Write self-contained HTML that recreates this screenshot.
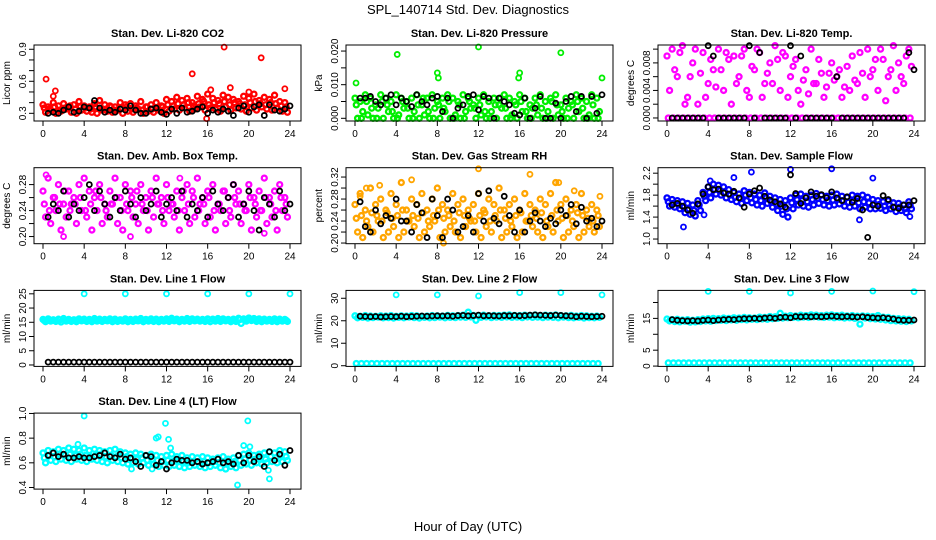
<!DOCTYPE html>
<html><head><meta charset="utf-8"><style>
html,body{margin:0;padding:0;background:#fff;}
svg{display:block;font-family:"Liberation Sans",sans-serif;}
</style></head><body>
<svg id="chart" width="936" height="540" viewBox="0 0 936 540">
<text x="468" y="14" text-anchor="middle" font-size="13">SPL_140714  Std. Dev. Diagnostics</text>
<text x="468" y="531" text-anchor="middle" font-size="13">Hour of Day (UTC)</text>
</svg>
<script>
const xTicks=[0,4,8,12,16,20,24];
// Panel 1 CO2
const p1Hi=[0.38,0.36,0.40,0.37,0.39,0.35,0.38,0.41,0.37,0.36,0.39,0.42,0.38,0.37,0.36,0.40,0.38,0.39,0.37,0.41,0.36,0.38,0.40,0.37,0.43,0.41,0.45,0.42,0.44,0.40,0.46,0.43,0.48,0.44,0.42,0.47,0.45,0.43,0.41,0.46,0.44,0.48,0.42,0.45,0.43,0.47,0.41,0.40];
const p1Lo=[0.31,0.33,0.30,0.32,0.34,0.31,0.30,0.33,0.32,0.31,0.30,0.33,0.32,0.31,0.33,0.30,0.32,0.31,0.34,0.30,0.32,0.31,0.33,0.30,0.32,0.34,0.33,0.35,0.32,0.34,0.36,0.33,0.35,0.34,0.32,0.36,0.33,0.35,0.34,0.32,0.35,0.33,0.36,0.34,0.33,0.35,0.32,0.31];
const p1Mid=[0.35,0.34,0.36,0.33,0.35,0.37,0.34,0.36,0.35,0.34,0.36,0.35,0.34,0.36,0.33,0.35,0.36,0.34,0.35,0.33,0.36,0.34,0.35,0.36,0.38,0.37,0.39,0.38,0.40,0.37,0.39,0.41,0.38,0.40,0.39,0.41,0.38,0.40,0.39,0.38,0.40,0.41,0.39,0.38,0.40,0.39,0.37,0.36];
const p1Out=[[0.3,0.62],[1.2,0.51],[1.0,0.46],[14.5,0.67],[17.6,0.92],[21.2,0.82],[23.5,0.53],[18.2,0.54],[16.3,0.52],[20.0,0.50],[15.9,0.25]];
const p1Blk=[0.30,0.31,0.30,0.33,0.36,0.31,0.32,0.36,0.35,0.42,0.35,0.31,0.33,0.31,0.34,0.33,0.37,0.33,0.30,0.30,0.34,0.35,0.31,0.29,0.34,0.30,0.35,0.31,0.32,0.34,0.36,0.30,0.33,0.31,0.34,0.32,0.28,0.35,0.37,0.31,0.36,0.38,0.28,0.38,0.33,0.32,0.34,0.37];
// Panel 2 Pressure
const p2Hi=[0.006,0.005,0.007,0.006,0.004,0.007,0.006,0.005,0.007,0.006,0.005,0.006,0.007,0.004,0.006,0.007,0.005,0.006,0.007,0.006,0.005,0.007,0.006,0.004,0.006,0.007,0.005,0.006,0.004,0.007,0.006,0.005,0.007,0.006,0.004,0.006,0.007,0.005,0.006,0.007,0.004,0.006,0.005,0.007,0.006,0.005,0.007,0.006];
const p2Lo=[0.000,0.002,0.001,0.000,0.003,0.000,0.002,0.000,0.001,0.003,0.000,0.002,0.000,0.001,0.000,0.003,0.000,0.002,0.000,0.001,0.000,0.002,0.003,0.000,0.001,0.000,0.002,0.000,0.003,0.000,0.001,0.000,0.002,0.000,0.003,0.001,0.000,0.002,0.000,0.001,0.000,0.003,0.000,0.002,0.000,0.001,0.000,0.002];
const p2Mid=[0.004,0.000,0.005,0.003,0.000,0.005,0.004,0.002,0.000,0.005,0.003,0.000,0.004,0.006,0.002,0.000,0.004,0.003,0.005,0.000,0.004,0.000,0.005,0.003,0.004,0.002,0.000,0.004,0.006,0.003,0.000,0.004,0.005,0.002,0.000,0.004,0.003,0.000,0.005,0.004,0.002,0.000,0.004,0.005,0.003,0.000,0.004,0.000];
const p2Out=[[0.1,0.0105],[4.1,0.019],[8.0,0.0135],[8.1,0.012],[12.0,0.0212],[16.0,0.0135],[15.9,0.012],[20.0,0.0195],[24.0,0.012]];
const p2Blk=[0.006,0.006,0.0065,0.005,0.004,0.006,0.007,0.004,0.006,0.005,0.0035,0.007,0.005,0.004,0.006,0.0065,0.002,0.006,0.000,0.003,0.004,0.0065,0.007,0.0025,0.0065,0.006,0.000,0.006,0.005,0.004,0.0015,0.001,0.006,0.000,0.003,0.0065,0.000,0.000,0.0045,0.000,0.005,0.0065,0.002,0.0065,0.000,0.0065,0.0015,0.007];
// Panel 3 Temp
const p3Hi=[0.009,0.010,0.006,0.0105,0.003,0.008,0.002,0.0095,0.005,0.007,0.010,0.004,0.0085,0.009,0.006,0.0100,0.003,0.007,0.0095,0.005,0.008,0.0105,0.004,0.009,0.006,0.0085,0.002,0.0070,0.010,0.005,0.0065,0.0045,0.0080,0.0060,0.003,0.0075,0.009,0.0050,0.0065,0.0100,0.007,0.004,0.0085,0.0060,0.0105,0.008,0.005,0.0100];
const p3Mid=[0.004,0.007,0.0095,0.002,0.006,0.0100,0.0065,0.003,0.0085,0.0045,0.007,0.0095,0.002,0.005,0.0090,0.004,0.0075,0.0100,0.003,0.0065,0.005,0.0085,0.0095,0.003,0.0075,0.004,0.0055,0.0035,0.0050,0.0085,0.0030,0.0065,0.0055,0.0070,0.0045,0.004,0.0055,0.0095,0.003,0.0060,0.0085,0.0100,0.0025,0.0070,0.004,0.0060,0.0090,0.0075];
const p3Lo=[0,0,0,0,0,0,0,0,0,0,0,0,0,0,0,0,0,0,0,0,0,0,0,0,0,0,0,0,0,0,0,0,0,0,0,0,0,0,0,0,0,0,0,0,0,0,0,0];
const p3Out=[];
const p3Blk=[0,0,0,0,0,0,0,0.0105,0.009,0,0,0,0,0,0,0.0105,0,0.0095,0,0,0,0,0,0.0105,0,0.009,0,0,0,0,0,0,0.006,0,0,0,0,0,0,0,0,0,0,0,0,0,0.0095,0.007];
// Panel 4 Amb box temp
const p4Hi=[0.27,0.29,0.26,0.28,0.25,0.27,0.26,0.28,0.29,0.27,0.26,0.28,0.25,0.27,0.29,0.26,0.28,0.27,0.25,0.28,0.26,0.27,0.29,0.26,0.28,0.25,0.27,0.26,0.28,0.27,0.29,0.26,0.27,0.28,0.25,0.27,0.26,0.28,0.27,0.25,0.28,0.26,0.27,0.29,0.26,0.27,0.28,0.26];
const p4Lo=[0.23,0.22,0.24,0.21,0.23,0.25,0.22,0.24,0.23,0.21,0.24,0.22,0.23,0.25,0.22,0.21,0.24,0.23,0.22,0.24,0.21,0.23,0.25,0.22,0.24,0.23,0.21,0.24,0.22,0.23,0.25,0.22,0.23,0.21,0.24,0.22,0.23,0.25,0.22,0.24,0.21,0.23,0.24,0.22,0.23,0.21,0.24,0.23];
const p4Mid=[0.25,0.24,0.26,0.25,0.27,0.24,0.25,0.26,0.24,0.25,0.27,0.26,0.24,0.25,0.26,0.24,0.25,0.26,0.27,0.25,0.24,0.26,0.25,0.24,0.26,0.25,0.24,0.27,0.25,0.26,0.24,0.25,0.26,0.24,0.25,0.27,0.24,0.26,0.25,0.24,0.26,0.25,0.24,0.26,0.25,0.24,0.26,0.25];
const p4Out=[[0.3,0.295],[2.0,0.20],[8.5,0.20],[13.3,0.29],[21.5,0.205]];
const p4Blk=[0.23,0.25,0.24,0.27,0.23,0.25,0.24,0.26,0.28,0.24,0.27,0.25,0.23,0.26,0.24,0.27,0.25,0.23,0.26,0.24,0.25,0.27,0.23,0.25,0.26,0.24,0.27,0.23,0.25,0.24,0.26,0.23,0.27,0.25,0.24,0.26,0.28,0.23,0.25,0.27,0.24,0.21,0.26,0.25,0.23,0.27,0.24,0.25];
// Panel 5 Gas RH
const p5Hi=[0.27,0.29,0.26,0.30,0.27,0.28,0.26,0.29,0.27,0.31,0.26,0.28,0.27,0.29,0.26,0.28,0.30,0.27,0.26,0.29,0.27,0.28,0.26,0.27,0.29,0.26,0.28,0.27,0.30,0.26,0.27,0.28,0.26,0.29,0.27,0.26,0.28,0.27,0.29,0.31,0.27,0.28,0.26,0.27,0.29,0.26,0.27,0.26];
const p5Lo=[0.22,0.21,0.23,0.22,0.24,0.21,0.22,0.23,0.21,0.22,0.24,0.23,0.21,0.22,0.23,0.24,0.21,0.22,0.23,0.22,0.21,0.23,0.24,0.22,0.21,0.23,0.22,0.24,0.21,0.22,0.23,0.21,0.22,0.24,0.23,0.22,0.21,0.23,0.22,0.24,0.21,0.22,0.23,0.21,0.22,0.23,0.22,0.23];
const p5Mid=[0.245,0.25,0.24,0.255,0.25,0.24,0.255,0.245,0.25,0.26,0.24,0.25,0.245,0.255,0.24,0.25,0.26,0.245,0.25,0.24,0.255,0.25,0.245,0.24,0.25,0.255,0.24,0.25,0.26,0.245,0.24,0.25,0.255,0.24,0.25,0.245,0.255,0.24,0.25,0.26,0.245,0.25,0.24,0.255,0.25,0.245,0.24,0.25];
const p5Out=[[0.5,0.285],[1.1,0.30],[2.4,0.305],[5.5,0.315],[8.6,0.20],[12.0,0.335],[17.0,0.325],[19.8,0.31],[21.3,0.295],[23.8,0.285]];
const p5Blk=[0.275,0.23,0.22,0.26,0.235,0.25,0.245,0.28,0.24,0.24,0.22,0.27,0.255,0.21,0.28,0.25,0.21,0.28,0.26,0.22,0.23,0.25,0.22,0.29,0.24,0.295,0.245,0.235,0.285,0.25,0.22,0.26,0.22,0.24,0.255,0.24,0.23,0.245,0.235,0.26,0.25,0.27,0.235,0.265,0.24,0.245,0.23,0.24];
// Panel 6 Sample flow
const p6Hi=[1.75,1.72,1.70,1.68,1.65,1.62,1.70,1.85,1.95,2.00,1.98,1.95,1.90,1.85,1.82,1.88,1.85,1.82,1.80,1.84,1.78,1.75,1.72,1.70,1.75,1.80,1.82,1.78,1.80,1.83,1.80,1.78,1.80,1.82,1.78,1.76,1.80,1.78,1.80,1.76,1.72,1.70,1.68,1.70,1.66,1.65,1.62,1.68];
const p6Lo=[1.60,1.58,1.55,1.48,1.45,1.42,1.52,1.70,1.75,1.82,1.80,1.75,1.72,1.68,1.65,1.70,1.66,1.62,1.60,1.65,1.58,1.52,1.45,1.40,1.55,1.62,1.60,1.58,1.62,1.65,1.62,1.60,1.62,1.64,1.60,1.58,1.60,1.55,1.58,1.55,1.55,1.56,1.52,1.55,1.50,1.52,1.48,1.55];
const p6Mid=[1.68,1.65,1.62,1.58,1.55,1.52,1.62,1.78,1.85,1.90,1.88,1.85,1.80,1.76,1.74,1.80,1.75,1.72,1.70,1.75,1.68,1.64,1.60,1.55,1.66,1.72,1.70,1.68,1.72,1.74,1.72,1.70,1.71,1.73,1.70,1.67,1.70,1.66,1.68,1.66,1.64,1.63,1.60,1.62,1.58,1.58,1.55,1.62];
const p6Out=[[1.6,1.22],[3.6,1.44],[8.2,2.22],[12.0,2.27],[16.0,2.28],[20.0,2.11],[18.7,1.35],[6.5,2.12],[4.2,2.06],[23.6,1.41]];
const p6Blk=[1.62,1.65,1.60,1.53,1.47,1.64,1.82,1.95,1.90,1.91,1.84,1.82,1.87,1.75,1.58,1.82,1.88,1.93,1.78,1.71,1.68,1.64,1.58,2.17,1.83,1.65,1.75,1.86,1.78,1.81,1.75,1.86,1.75,1.70,1.77,1.67,1.74,1.53,1.03,1.62,1.60,1.79,1.72,1.58,1.56,1.62,1.62,1.70];
// Panel 7 Line 1
const p7Hi=[16.0,16.2,15.9,16.1,16.3,16.0,15.9,16.2,16.1,16.0,16.3,16.1,16.0,16.2,16.1,15.9,16.2,16.0,16.1,16.3,16.0,16.2,16.1,16.0,16.2,16.4,16.1,16.0,16.3,16.2,16.1,16.0,16.2,16.1,16.3,16.2,16.0,16.1,16.4,16.2,16.5,16.3,16.2,16.1,16.0,16.2,16.1,16.0];
const p7Lo=[15.2,15.4,15.3,15.1,15.4,15.3,15.2,15.5,15.3,15.2,15.4,15.3,15.5,15.2,15.3,15.4,15.2,15.3,15.5,15.2,15.4,15.3,15.2,15.4,15.3,15.5,15.2,15.4,15.3,15.5,15.4,15.3,15.2,15.4,15.3,15.5,15.2,15.3,14.6,15.4,15.6,15.3,15.2,15.4,15.3,15.2,15.4,15.3];
const p7Mid=[15.6,15.7,15.6,15.8,15.7,15.6,15.7,15.8,15.6,15.7,15.8,15.6,15.7,15.8,15.7,15.6,15.8,15.7,15.6,15.8,15.7,15.6,15.8,15.7,15.8,15.9,15.7,15.8,15.9,15.8,15.7,15.8,15.9,15.7,15.8,15.9,15.7,15.8,15.9,15.8,16.0,15.8,15.7,15.8,15.7,15.6,15.8,15.7];
const p7Out=[[4,25],[8,25],[12,25],[16,25],[20,25],[24,25]];
const p7Blk=[1,1,1,1,1,1,1,1,1,1,1,1,1,1,1,1,1,1,1,1,1,1,1,1,1,1,1,1,1,1,1,1,1,1,1,1,1,1,1,1,1,1,1,1,1,1,1,1];
// Panel 8 Line 2
const p8Hi=[22.2,22.0,22.3,22.1,22.0,22.2,22.1,22.3,22.0,22.2,22.1,22.3,22.2,22.0,22.1,22.3,22.2,22.1,22.4,22.2,22.3,22.5,23.8,22.4,22.3,22.5,22.2,22.4,22.3,22.5,22.6,22.4,22.3,22.5,22.4,22.6,22.3,22.5,22.4,22.6,22.3,22.2,22.4,22.1,22.3,22.2,22.0,22.1];
const p8Lo=[21.3,21.5,21.2,21.4,21.6,21.3,21.4,21.2,21.5,21.3,21.6,21.4,21.2,21.5,21.3,21.4,21.6,21.3,21.5,21.4,21.6,21.5,21.7,20.2,21.5,21.7,21.4,21.6,21.5,21.7,21.5,21.6,21.4,21.7,21.5,21.6,21.4,21.6,21.5,21.3,21.6,21.4,21.3,21.5,21.2,21.4,21.3,21.5];
const p8Zero=[1,1,1,1,1,1,1,1,1,1,1,1,1,1,1,1,1,1,1,1,1,1,1,1,1,1,1,1,1,1,1,1,1,1,1,1,1,1,1,1,1,1,1,1,1,1,1,1];
const p8Out=[[4,31.5],[8,31.5],[12,31],[16,32.5],[20,32.5],[24,31.5]];
const p8Blk=[22.0,21.9,21.8,21.9,21.7,21.8,21.9,21.8,22.0,21.8,21.9,22.0,22.1,22.0,22.1,22.2,22.1,22.2,22.0,22.3,22.4,22.2,22.3,22.5,22.2,22.3,22.2,22.1,22.3,22.2,22.4,22.2,22.3,22.5,22.6,22.5,22.4,22.3,22.5,22.4,22.2,22.1,21.8,22.0,21.9,21.8,21.9,22.0];
// Panel 9 Line 3
const p9Hi=[14.8,14.6,14.7,14.5,14.6,14.4,14.6,14.8,14.9,15.0,14.9,15.1,15.0,15.2,15.1,15.3,15.2,15.1,15.4,15.3,15.6,15.5,16.6,15.7,15.9,15.8,16.0,15.9,16.1,16.0,15.9,16.0,16.1,15.9,16.0,15.8,15.9,15.7,15.8,15.7,15.6,15.9,15.4,15.3,15.0,14.9,14.8,14.7];
const p9Lo=[14.2,14.0,13.9,14.1,13.8,13.9,14.0,14.2,14.1,14.3,14.4,14.3,14.5,14.4,14.6,14.5,14.7,14.6,14.8,14.7,14.9,15.0,15.1,15.2,15.3,15.2,15.4,15.3,15.5,15.4,15.3,15.4,15.2,15.3,15.1,15.2,15.0,13.2,15.1,14.9,14.8,14.7,14.5,14.3,14.2,14.1,14.0,14.2];
const p9Zero=[1,1,1,1,1,1,1,1,1,1,1,1,1,1,1,1,1,1,1,1,1,1,1,1,1,1,1,1,1,1,1,1,1,1,1,1,1,1,1,1,1,1,1,1,1,1,1,1];
const p9Out=[[4,23.5],[8,23.5],[12,23],[16,23.5],[20,23.6],[24,23.4]];
const p9Blk=[14.6,14.4,14.3,14.2,14.3,14.2,14.4,14.5,14.3,14.5,14.6,14.7,14.6,14.8,14.9,14.9,15.0,14.9,15.1,15.2,15.0,15.3,15.4,15.2,15.6,15.5,15.6,15.5,15.6,15.5,15.6,15.7,15.6,15.5,15.6,15.5,15.4,15.5,15.3,15.2,15.1,15.2,15.0,14.8,14.5,14.4,14.4,14.5];
// Panel 10 Line 4
const p10Hi=[0.68,0.70,0.69,0.71,0.70,0.72,0.71,0.70,0.72,0.70,0.71,0.70,0.69,0.70,0.71,0.69,0.68,0.67,0.68,0.67,0.66,0.67,0.66,0.65,0.66,0.67,0.65,0.66,0.64,0.65,0.64,0.65,0.64,0.63,0.64,0.65,0.63,0.64,0.66,0.67,0.68,0.66,0.67,0.68,0.69,0.68,0.70,0.69];
const p10Lo=[0.60,0.62,0.61,0.63,0.62,0.61,0.63,0.62,0.61,0.63,0.62,0.61,0.60,0.62,0.61,0.60,0.59,0.60,0.59,0.60,0.58,0.59,0.57,0.58,0.57,0.58,0.57,0.56,0.57,0.58,0.57,0.56,0.57,0.58,0.56,0.55,0.57,0.56,0.58,0.59,0.58,0.60,0.59,0.60,0.61,0.60,0.61,0.62];
const p10Mid=[0.64,0.66,0.65,0.67,0.66,0.67,0.66,0.67,0.66,0.65,0.66,0.67,0.65,0.66,0.65,0.64,0.65,0.64,0.63,0.64,0.62,0.63,0.62,0.61,0.62,0.61,0.62,0.61,0.60,0.61,0.60,0.61,0.60,0.61,0.60,0.59,0.60,0.61,0.62,0.63,0.62,0.63,0.64,0.63,0.65,0.64,0.66,0.65];
const p10Out=[[4.0,0.98],[3.4,0.75],[8.6,0.55],[10.6,0.55],[11.0,0.80],[11.2,0.81],[11.9,0.92],[12.2,0.79],[12.4,0.72],[18.9,0.42],[19.5,0.74],[19.9,0.94],[20.1,0.73],[21.9,0.54],[22.0,0.47]];
const p10Blk=[0.66,0.68,0.65,0.67,0.64,0.64,0.65,0.64,0.64,0.65,0.66,0.68,0.65,0.64,0.67,0.63,0.64,0.61,0.57,0.66,0.65,0.58,0.61,0.55,0.60,0.63,0.62,0.62,0.60,0.61,0.59,0.60,0.61,0.63,0.60,0.61,0.59,0.66,0.60,0.66,0.61,0.65,0.57,0.69,0.62,0.67,0.58,0.70];

const panels=[
 {title:'Stan. Dev. Li-820 CO2',ylab:'Licor ppm',col:0,row:0,yb:0.228,yt:0.94,ticks:[0.3,0.4,0.5,0.6,0.7,0.8,0.9],labs:['0.3','','','0.6','','','0.9'],color:'#ff0000',series:[p1Hi,p1Lo,p1Mid],out:p1Out,blk:p1Blk},
 {title:'Stan. Dev. Li-820 Pressure',ylab:'kPa',col:1,row:0,yb:-0.0008,yt:0.0218,ticks:[0,0.005,0.01,0.015,0.02],labs:['0.000','','0.010','','0.020'],color:'#00ee00',series:[p2Hi,p2Lo,p2Mid],out:p2Out,blk:p2Blk},
 {title:'Stan. Dev. Li-820 Temp.',ylab:'degrees C',col:2,row:0,yb:-0.00044,yt:0.0106,ticks:[0,0.002,0.004,0.006,0.008,0.010],labs:['0.000','','0.004','','0.008',''],color:'#ff00ff',series:[p3Hi,p3Mid,p3Lo],out:p3Out,blk:p3Blk},
 {title:'Stan. Dev. Amb. Box Temp.',ylab:'degrees C',col:0,row:1,yb:0.189,yt:0.306,ticks:[0.20,0.22,0.24,0.26,0.28],labs:['0.20','','0.24','','0.28'],color:'#ff00ff',series:[p4Hi,p4Lo,p4Mid],out:p4Out,blk:p4Blk},
 {title:'Stan. Dev. Gas Stream RH',ylab:'percent',col:1,row:1,yb:0.1988,yt:0.337,ticks:[0.20,0.22,0.24,0.26,0.28,0.30,0.32],labs:['0.20','','0.24','','0.28','','0.32'],color:'#ffa500',series:[p5Hi,p5Lo,p5Mid],out:p5Out,blk:p5Blk},
 {title:'Stan. Dev. Sample Flow',ylab:'ml/min',col:2,row:1,yb:0.915,yt:2.30,ticks:[1.0,1.2,1.4,1.6,1.8,2.0,2.2],labs:['1.0','','1.4','','1.8','','2.2'],color:'#0000ff',series:[p6Hi,p6Lo,p6Mid],out:p6Out,blk:p6Blk},
 {title:'Stan. Dev. Line 1 Flow',ylab:'ml/min',col:0,row:2,yb:-0.5,yt:26.2,ticks:[0,5,10,15,20,25],labs:['0','5','10','15','20','25'],color:'#00ffff',series:[p7Hi,p7Lo,p7Mid],out:p7Out,blk:p7Blk},
 {title:'Stan. Dev. Line 2 Flow',ylab:'ml/min',col:1,row:2,yb:-0.3,yt:33.5,ticks:[0,10,20,30],labs:['0','10','20','30'],color:'#00ffff',series:[p8Hi,p8Lo,p8Zero],out:p8Out,blk:p8Blk},
 {title:'Stan. Dev. Line 3 Flow',ylab:'ml/min',col:2,row:2,yb:-0.1,yt:23.8,ticks:[0,5,10,15,20],labs:['0','5','','15',''],color:'#00ffff',series:[p9Hi,p9Lo,p9Zero],out:p9Out,blk:p9Blk},
 {title:'Stan. Dev. Line 4 (LT) Flow',ylab:'ml/min',col:0,row:3,yb:0.387,yt:1.003,ticks:[0.4,0.6,0.8,1.0],labs:['0.4','0.6','0.8','1.0'],color:'#00ffff',series:[p10Hi,p10Lo,p10Mid],out:p10Out,blk:p10Blk}
];
const NS='http://www.w3.org/2000/svg';
const svg=document.getElementById('chart');
function mk(tag,attrs,parent){const e=document.createElementNS(NS,tag);for(const k in attrs)e.setAttribute(k,attrs[k]);parent.appendChild(e);return e;}
panels.forEach((p,pi)=>{
  const x0=43+312*p.col, x24=x0+247;
  const top=45+122.7*p.row, h=76, left=x0-9, right=x24+11, bottom=top+h;
  const xs=t=>x0+(t/24)*247;
  const ys=v=>bottom-(v-p.yb)/(p.yt-p.yb)*h;
  const g=mk('g',{},svg);
  
  
  const tt=mk('text',{x:(left+right)/2,y:top-8,'text-anchor':'middle','font-size':'11','font-weight':'bold'},g);
  tt.textContent=p.title;
  
  
  const clip=mk('g',{},g);
  
  
  p.series.forEach((s,si)=>{
    const off=[0,0.25,0.125][si];
    s.forEach((v,i)=>{
      const c=mk('circle',{cx:xs(i*0.5+off),cy:ys(v),r:2.5,fill:'none',stroke:p.color,'stroke-width':2.3},clip);
      
      
    });
  });
  p.out.forEach(o=>{
    const c=mk('circle',{cx:xs(o[0]),cy:ys(o[1]),r:2.5,fill:'none',stroke:p.color,'stroke-width':1.8},clip);
    
    
  });
  p.blk.forEach((v,i)=>{
    const c=mk('circle',{cx:xs(0.5+i*0.5),cy:ys(v),r:2.5,fill:'none',stroke:'#000','stroke-width':1.8},clip);
    
    
  });
  const box=mk('rect',{x:left,y:top,width:right-left,height:h,fill:'none',stroke:'#000','stroke-width':1},g);
  
  
  xTicks.forEach(t=>{
    mk('line',{x1:xs(t),x2:xs(t),y1:bottom,y2:bottom+5,stroke:'#000'},g);
    const l=mk('text',{x:xs(t),y:bottom+16,'text-anchor':'middle','font-size':'10'},g);
    l.textContent=t;
    
    
  });
  p.ticks.forEach((t,i)=>{
    const y=ys(t);
    mk('line',{x1:left,x2:left-5,y1:y,y2:y,stroke:'#000'},g);
    if(p.labs[i]){
      const l=mk('text',{x:0,y:0,'text-anchor':'middle','font-size':'10',transform:`translate(${left-8},${y}) rotate(-90)`},g);
      l.textContent=p.labs[i];
      
      
    }
  });
  const yl=mk('text',{x:0,y:0,'text-anchor':'middle','font-size':'10',transform:`translate(${left-24},${top+h/2}) rotate(-90)`},g);
  yl.textContent=p.ylab;
  
  
});
</script>
</body></html>
